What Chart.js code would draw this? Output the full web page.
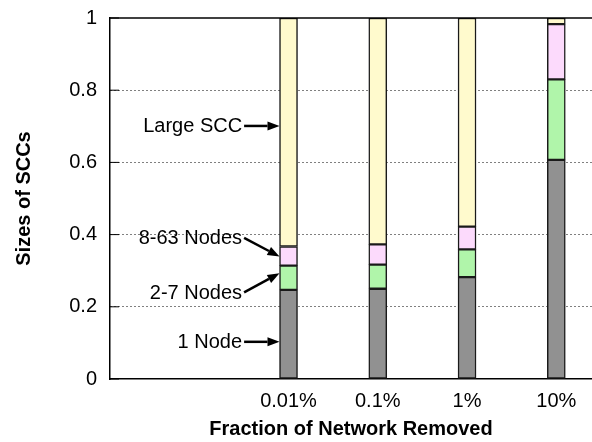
<!DOCTYPE html>
<html lang="en">
<head>
    <meta charset="UTF-8">
    <title>Sizes of SCCs</title>
    <style>
        body {
            margin: 0;
            background: #fff;
        }

        #wrap {
            width: 592px;
            height: 442px;
        }
    </style>
</head>
<body>
    <div id="wrap"><canvas id="sccChart"></canvas></div>
    <script src="https://cdn.jsdelivr.net/npm/chart.js"></script>
    <script>
        // x positions on a linear axis (the empty slot at 0 holds the labels)
        const categories = ['0.01%', '0.1%', '1%', '10%'];
        const xPositions = [1, 2, 3, 4];

        // stacked fractions, bottom to top
        const oneNode = [0.247, 0.250, 0.282, 0.607];
        const twoToSeven = [0.067, 0.067, 0.077, 0.223];
        const eightTo63 = [0.053, 0.056, 0.063, 0.153];
        const largeScc = [0.633, 0.627, 0.578, 0.017];

        const yTicks = [0, 0.2, 0.4, 0.6, 0.8, 1];

        // callout labels on the left of the first bar (in data units)
        const calloutText = ['Large SCC', '8-63 Nodes', '2-7 Nodes', '1 Node'];
        const calloutTextY = [0.701, 0.391, 0.240, 0.103];
        const calloutTipY = [0.701, 0.339, 0.293, 0.103];
        const calloutTextX = 0.48;

        const FONT = '"Liberation Sans", Arial, Helvetica, sans-serif';
        Chart.defaults.font.family = FONT;
        Chart.defaults.font.size = 20;
        Chart.defaults.color = '#000';

        function pts(values) {
            return values.map((v, i) => ({ x: xPositions[i], y: v }));
        }

        function arrow(ctx, x1, y1, x2, y2) {
            const ang = Math.atan2(y2 - y1, x2 - x1);
            const len = 12, half = 4.5;
            const bx = x2 - len * Math.cos(ang), by = y2 - len * Math.sin(ang);
            ctx.beginPath();
            ctx.moveTo(x1, y1);
            ctx.lineTo(bx, by);
            ctx.stroke();
            ctx.beginPath();
            ctx.moveTo(x2, y2);
            ctx.lineTo(bx + half * Math.sin(ang), by - half * Math.cos(ang));
            ctx.lineTo(bx - half * Math.sin(ang), by + half * Math.cos(ang));
            ctx.closePath();
            ctx.fill();
        }

        const extras = {
            id: 'extras',
            afterDraw(chart) {
                const { ctx, chartArea, scales } = chart;
                const xs = scales.x, ys = scales.y;
                ctx.save();
                ctx.strokeStyle = '#000';
                ctx.fillStyle = '#000';

                // top frame line
                ctx.lineWidth = 1.5;
                ctx.beginPath();
                ctx.moveTo(chartArea.left, chartArea.top);
                ctx.lineTo(chartArea.right, chartArea.top);
                ctx.stroke();

                // short inward tick marks on the y axis
                ctx.lineWidth = 1;
                yTicks.forEach(v => {
                    const y = ys.getPixelForValue(v);
                    ctx.beginPath();
                    ctx.moveTo(chartArea.left, y);
                    ctx.lineTo(chartArea.left + 9, y);
                    ctx.stroke();
                });

                // callouts
                ctx.font = '20px ' + FONT;
                ctx.textAlign = 'right';
                ctx.textBaseline = 'middle';
                const tipX = xs.getPixelForValue(xPositions[0]) - 9;
                const tx = xs.getPixelForValue(calloutTextX);
                calloutText.forEach((t, i) => {
                    const ty = ys.getPixelForValue(calloutTextY[i]);
                    ctx.fillText(t, tx, ty + 1);
                    ctx.lineWidth = 2.5;
                    arrow(ctx, tx + 2, ty, tipX, ys.getPixelForValue(calloutTipY[i]));
                });
                ctx.restore();
            }
        };

        function makeDataset(label, values, color) {
            return {
                label: label,
                data: pts(values),
                backgroundColor: color,
                borderColor: '#1a1a1a',
                borderWidth: 1.5,
                borderSkipped: false,
                barThickness: 18
            };
        }

        new Chart(document.getElementById('sccChart'), {
            type: 'bar',
            data: {
                datasets: [
                    makeDataset('1 Node', oneNode, '#919191'),
                    makeDataset('2-7 Nodes', twoToSeven, '#b0f5aa'),
                    makeDataset('8-63 Nodes', eightTo63, '#fcdafc'),
                    makeDataset('Large SCC', largeScc, '#fffacd')
                ]
            },
            options: {
                responsive: true,
                maintainAspectRatio: false,
                animation: false,
                layout: { padding: { top: 18, right: 0, left: 0, bottom: 0 } },
                plugins: {
                    legend: { display: false },
                    tooltip: { enabled: false }
                },
                scales: {
                    x: {
                        type: 'linear',
                        stacked: true,
                        offset: false,
                        min: -1,
                        max: 4.4,
                        afterBuildTicks: s => { s.ticks = xPositions.map(v => ({ value: v })); },
                        afterFit: s => { s.height = 63; s.paddingLeft = 0; s.paddingRight = 0; },
                        ticks: {
                            autoSkip: false,
                            maxRotation: 0,
                            padding: 10,
                            callback: v => categories[xPositions.indexOf(v)] || ''
                        },
                        grid: { display: false, drawTicks: false },
                        border: { color: '#000', width: 1.5 },
                        title: {
                            display: true,
                            text: 'Fraction of Network Removed',
                            font: { weight: 'bold', size: 20 },
                            padding: { top: 1, bottom: 1 }
                        }
                    },
                    y: {
                        stacked: true,
                        min: 0,
                        max: 1,
                        afterBuildTicks: s => { s.ticks = yTicks.map(v => ({ value: v })); },
                        afterFit: s => { s.width = 110; s.paddingTop = 0; s.paddingBottom = 0; },
                        ticks: {
                            padding: 13,
                            callback: v => String(v)
                        },
                        grid: {
                            drawTicks: false,
                            lineWidth: 1,
                            color: c => (c.tick && c.tick.value > 0 && c.tick.value < 1) ? '#000' : 'rgba(0,0,0,0)'
                        },
                        border: { color: '#000', width: 1.5, dash: [1, 3] },
                        title: {
                            display: true,
                            text: 'Sizes of SCCs',
                            font: { weight: 'bold', size: 20 },
                            padding: { top: 12, bottom: 0 }
                        }
                    }
                }
            },
            plugins: [extras]
        });
    </script>
</body>
</html>
